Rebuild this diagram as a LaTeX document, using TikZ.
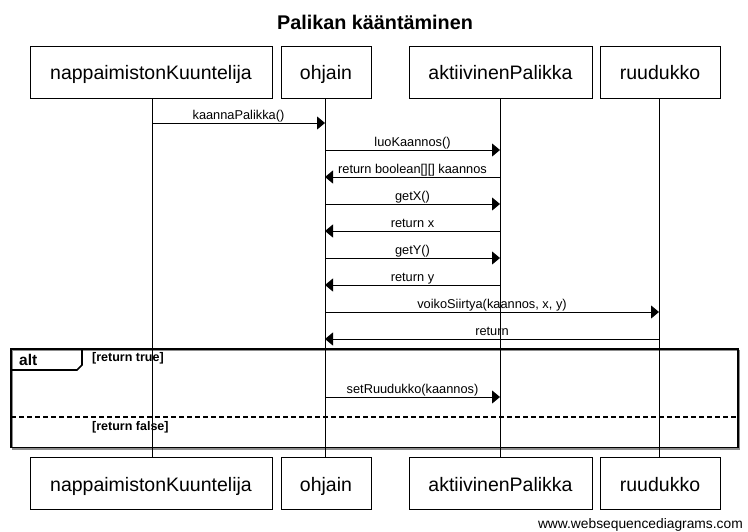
\documentclass[tikz,border=0pt]{standalone}
\usepackage{fontspec}
\setmainfont{Liberation Sans}
\usetikzlibrary{arrows.meta}
\begin{document}
\begin{tikzpicture}[x=1pt,y=-1pt,
  part/.style={draw, line width=0.9pt, minimum height=52pt, inner sep=0pt, text height=15pt, text depth=0pt, font=\fontsize{19.5}{22}\selectfont},
  life/.style={line width=0.9pt},
  msg/.style={line width=0.9pt, -{Triangle[length=8pt,width=13pt]}},
  lbl/.style={font=\fontsize{12.8}{14}\selectfont, inner sep=0pt, anchor=base},
  frm/.style={line width=1.6pt},
  shadow/.style={line width=1.6pt, draw=black!45}
]
\useasboundingbox (0,0) rectangle (748,531);
% title
\node[font=\fontsize{19.8}{22}\bfseries\selectfont, anchor=base] (title) at (375,29) {Palikan kääntäminen};
% participants top
\node[part, minimum width=242pt] (a1) at (151,72) {nappaimistonKuuntelija};
\node[part, minimum width=90pt] (b1) at (326,72) {ohjain};
\node[part, minimum width=183pt] (c1) at (500.5,72) {aktiivinenPalikka};
\node[part, minimum width=120pt] (d1) at (660,72) {ruudukko};
% participants bottom
\node[part, minimum width=242pt] (a2) at (151,483.5) {nappaimistonKuuntelija};
\node[part, minimum width=90pt] (b2) at (326,483.5) {ohjain};
\node[part, minimum width=183pt] (c2) at (500.5,483.5) {aktiivinenPalikka};
\node[part, minimum width=120pt] (d2) at (660,483.5) {ruudukko};
% lifeline coordinates
\coordinate (A) at (152,0); \coordinate (B) at (325,0);
\coordinate (C) at (500,0); \coordinate (D) at (659,0);
% alt frame
\draw[shadow] (12.5,350.5) rectangle (739.5,449);
\draw[frm] (11,349) rectangle (738,447.5);
\draw[frm] (11,370) -- (77,370) -- (82,365) -- (82,349);
\draw[frm, dash pattern=on 5pt off 3pt] (11,417) -- (738,417);
\node[font=\fontsize{15.5}{17}\bfseries\selectfont, anchor=base west, inner sep=0pt] (alt) at (19,365) {alt};
\node[font=\fontsize{12.5}{14}\bfseries\selectfont, anchor=base west, inner sep=0pt] (g1) at (92,361) {[return true]};
\node[font=\fontsize{12.5}{14}\bfseries\selectfont, anchor=base west, inner sep=0pt] (g2) at (92,430) {[return false]};
% lifelines
\draw[life] (a1.south -| A) -- (a2.north -| A);
\draw[life] (b1.south -| B) -- (b2.north -| B);
\draw[life] (c1.south -| C) -- (c2.north -| C);
\draw[life] (d1.south -| D) -- (d2.north -| D);
% messages
\foreach \y/\f/\t/\txt in {
  123/A/B/{kaannaPalikka()},
  150/B/C/{luoKaannos()},
  177/C/B/{return boolean[][] kaannos},
  204/B/C/{getX()},
  231/C/B/{return x},
  258/B/C/{getY()},
  285/C/B/{return y},
  312/B/D/{voikoSiirtya(kaannos, x, y)},
  339/D/B/{return},
  397/B/C/{setRuudukko(kaannos)}} {
  \draw[msg] ([yshift=-\y pt]\f) -- ([yshift=-\y pt]\t) node[lbl, midway, yshift=4pt] {\txt};
}
% footer
\node[font=\fontsize{13.8}{15}\selectfont, anchor=base east, inner sep=0pt] (foot) at (743,528) {www.websequencediagrams.com};
\end{tikzpicture}
\end{document}
